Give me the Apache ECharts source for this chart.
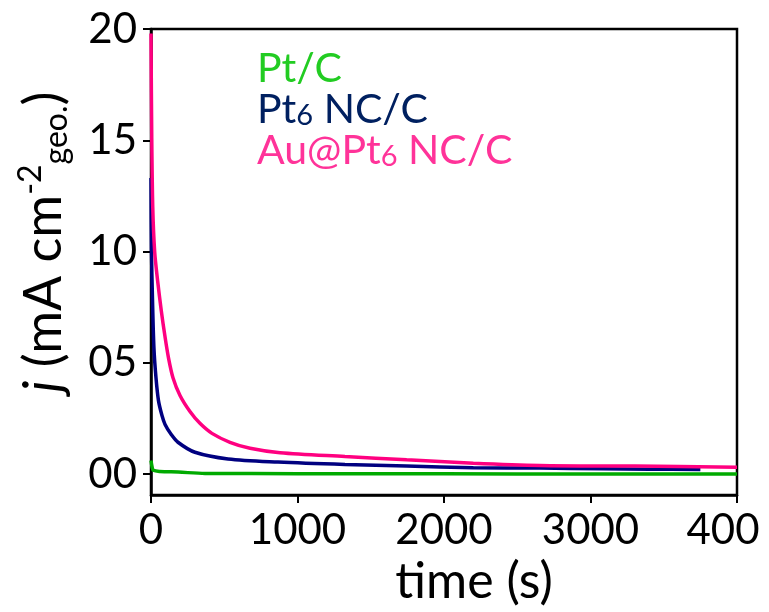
<!DOCTYPE html>
<html>
<head>
<meta charset="utf-8">
<script src="https://cdn.jsdelivr.net/npm/echarts@6/dist/echarts.min.js"></script>
<style>
html,body{margin:0;padding:0;background:#fff;}
#chart{width:769px;height:612px;}
</style>
</head>
<body>
<div id="chart"></div>
<script>
// ---- data ----
const seriesNames = ['Pt/C', 'Pt6 NC/C', 'Au@Pt6 NC/C'];

const ptcTime = [0, 8, 16, 60, 186, 369, 1000, 2000, 3000, 4000];
const ptcJ    = [0.61, 0.30, 0.17, 0.12, 0.09, 0.03, 0.02, 0.01, 0.0, 0.0];

const pt6Time = [0, 3, 10, 20, 34, 51, 75, 96, 137, 184, 300, 526, 867, 1324, 1745, 2200, 2655, 3077, 3400, 3750];
const pt6J    = [13.3, 10.1, 7.9, 5.67, 4.33, 3.30, 2.63, 2.23, 1.79, 1.43, 0.98, 0.68, 0.54, 0.43, 0.36, 0.29, 0.27, 0.24, 0.22, 0.21];

const auTime = [0, 5, 12, 25, 45, 70, 95, 120, 150, 198, 266, 334, 416, 539, 676, 881, 1324, 1745, 2200, 2655, 3304, 4000];
const auJ    = [19.8, 15.2, 12.0, 10.0, 8.7, 7.35, 6.2, 5.2, 4.33, 3.53, 2.81, 2.28, 1.83, 1.43, 1.16, 0.96, 0.79, 0.64, 0.49, 0.39, 0.36, 0.31];

const xTickValues = [0, 1000, 2000, 3000, 4000];
const xTickLabels = ['0', '1000', '2000', '3000', '400'];
const yTickValues = [0, 5, 10, 15, 20];
const yTickLabels = ['00', '05', '10', '15', '20'];

// ---- build ----
const FONT = 'Lato';
function pairs(t, v) { return t.map((x, i) => [x, v[i]]); }

const chart = echarts.init(document.getElementById('chart'), null, {renderer: 'canvas'});
const option = {
  backgroundColor: '#ffffff',
  animation: false,
  grid: {
    left: 151, right: 32, top: 29, bottom: 113,
    show: true, borderColor: '#000', borderWidth: 2.5, backgroundColor: 'transparent'
  },
  legend: {
    orient: 'vertical',
    left: 247, top: 43,
    itemWidth: 0, itemHeight: 0, itemGap: 0,
    icon: 'rect',
    selectedMode: false,
    data: seriesNames,
    formatter: function (name) {
      if (name === 'Pt/C') return '{g|Pt/C}';
      if (name === 'Pt6 NC/C') return '{n|Pt}{ns|6}{n| NC/C}';
      return '{p|Au@Pt}{ps|6}{p| NC/C}';
    },
    textStyle: {
      fontFamily: FONT, fontSize: 41,
      rich: {
        g:  {color: '#22CC22', fontFamily: FONT, fontSize: 41, lineHeight: 41},
        n:  {color: '#002060', fontFamily: FONT, fontSize: 41, lineHeight: 41},
        ns: {color: '#002060', fontFamily: FONT, fontSize: 29, lineHeight: 6, verticalAlign: 'bottom'},
        p:  {color: '#FF3399', fontFamily: FONT, fontSize: 41, lineHeight: 41},
        ps: {color: '#FF3399', fontFamily: FONT, fontSize: 29, lineHeight: 6, verticalAlign: 'bottom'}
      }
    }
  },
  xAxis: {
    type: 'value',
    min: 0, max: 4000, interval: 1000,
    name: 'time (s)',
    nameLocation: 'middle',
    nameGap: 62,
    nameTextStyle: {fontFamily: FONT, fontSize: 50, color: '#000', padding: [0, 0, 0, 60]},
    axisLine: {show: true, onZero: false, lineStyle: {color: '#000', width: 2.5}},
    axisTick: {show: true, inside: false, length: 8, lineStyle: {color: '#000', width: 2}},
    splitLine: {show: false},
    axisLabel: {
      margin: 14,
      fontFamily: FONT, fontSize: 42, color: '#000',
      formatter: function (v) {
        const i = xTickValues.indexOf(v);
        const s = i >= 0 ? xTickLabels[i] : '';
        return v === 4000 ? '{e|' + s + '}' : s;
      },
      rich: {
        e: {fontFamily: FONT, fontSize: 42, color: '#000', padding: [0, 28, 0, 0]}
      }
    }
  },
  yAxis: {
    type: 'value',
    min: -0.94, max: 20,
    name: '{i|j}{t| (mA cm}{sup|-2}{sub|geo.}{t|)}',
    nameLocation: 'middle',
    nameRotate: 90,
    nameGap: 78,
    nameTextStyle: {
      fontFamily: FONT, fontSize: 52, color: '#000',
      padding: [0, 0, 0, 40],
      rich: {
        i:   {fontFamily: FONT, fontSize: 52, fontStyle: 'italic', color: '#000', lineHeight: 58},
        t:   {fontFamily: FONT, fontSize: 52, color: '#000', lineHeight: 58},
        sup: {fontFamily: FONT, fontSize: 32, color: '#000', lineHeight: 14, verticalAlign: 'top'},
        sub: {fontFamily: FONT, fontSize: 32, color: '#000', lineHeight: 10, verticalAlign: 'bottom'}
      }
    },
    axisLine: {show: true, onZero: false, lineStyle: {color: '#000', width: 2.5}},
    axisTick: {show: true, inside: false, length: 8, customValues: yTickValues, lineStyle: {color: '#000', width: 2}},
    splitLine: {show: false},
    axisLabel: {
      margin: 14,
      customValues: yTickValues,
      fontFamily: FONT, fontSize: 42, color: '#000',
      formatter: function (v) {
        const i = yTickValues.indexOf(Math.round(v));
        return i >= 0 ? yTickLabels[i] : '';
      }
    }
  },
  series: [
    {
      name: seriesNames[0], type: 'line', data: pairs(ptcTime, ptcJ),
      showSymbol: false, smooth: 0.3,
      lineStyle: {color: '#00AA00', width: 3.5}, itemStyle: {color: '#22CC22'}, z: 2
    },
    {
      name: seriesNames[1], type: 'line', data: pairs(pt6Time, pt6J),
      showSymbol: false, smooth: 0.3,
      lineStyle: {color: '#000080', width: 3.5}, itemStyle: {color: '#002060'}, z: 3
    },
    {
      name: seriesNames[2], type: 'line', data: pairs(auTime, auJ),
      showSymbol: false, smooth: 0.3,
      lineStyle: {color: '#FF0080', width: 3.5}, itemStyle: {color: '#FF3399'}, z: 4
    }
  ]
};
chart.setOption(option);
</script>
</body>
</html>
